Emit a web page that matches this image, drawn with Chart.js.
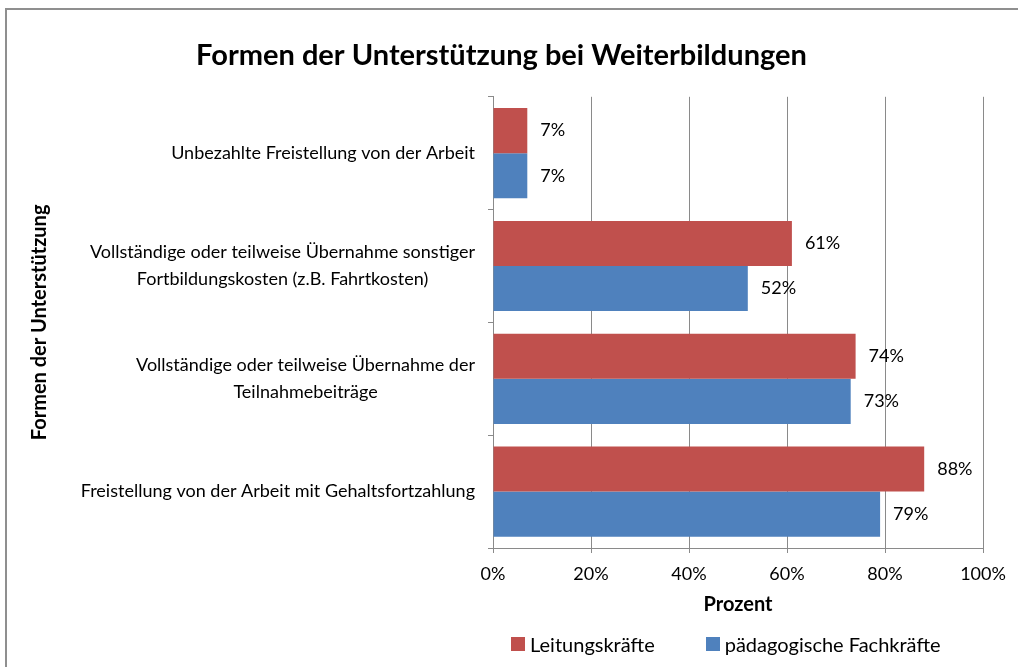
<!DOCTYPE html>
<html>
<head>
<meta charset="utf-8">
<script src="https://cdn.jsdelivr.net/npm/chart.js@4"></script>
<style>
  html, body { margin: 0; padding: 0; background: #fff; overflow: hidden; }
  .frame { position: absolute; left: 5px; top: 8px; width: 1100px; height: 800px;
           border-left: 2px solid #8f8f8f; border-top: 2px solid #8f8f8f; }
  .wrap { position: absolute; left: 0; top: 0; width: 1018px; height: 667px; }
  #legend { position: absolute; left: 511px; top: 632px; display: flex; gap: 51px;
            font: 20px Lato, sans-serif; color: #000; white-space: nowrap; }
  #legend span.item { display: flex; align-items: center; }
  #legend span.box { display: inline-block; width: 14px; height: 14px; margin-right: 5px; }
</style>
</head>
<body>
<div class="frame"></div>
<div class="wrap"><canvas id="chart"></canvas></div>
<div id="legend"></div>
<script>
// Data
const categories = [
    ['Unbezahlte Freistellung von der Arbeit'],
    ['Vollständige oder teilweise Übernahme sonstiger', 'Fortbildungskosten (z.B. Fahrtkosten)'],
    ['Vollständige oder teilweise Übernahme der', 'Teilnahmebeiträge'],
    ['Freistellung von der Arbeit mit Gehaltsfortzahlung']
];
const leitungskraefte = [7, 61, 74, 88];
const fachkraefte = [7, 52, 73, 79];
const xTicks = [0, 20, 40, 60, 80, 100];

const gridColor = '#8a8a8a';

// category labels: block right-aligned, lines centered inside the block
const categoryLabels = {
    id: 'categoryLabels',
    afterDraw(chart) {
        const scale = chart.scales.y;
        const ctx = chart.ctx;
        ctx.save();
        ctx.font = '18px Lato';
        ctx.fillStyle = '#000';
        ctx.textAlign = 'center';
        ctx.textBaseline = 'middle';
        const lh = 27;
        chart.data.labels.forEach((lines, i) => {
            const py = scale.getPixelForTick(i);
            const w = Math.max(...lines.map(l => ctx.measureText(l).width));
            const cx = scale.right - 18 - w / 2;
            lines.forEach((l, j) => ctx.fillText(l, cx, py + (j - (lines.length - 1) / 2) * lh));
        });
        ctx.restore();
    }
};

// value labels next to bar ends
const valueLabels = {
    id: 'valueLabels',
    afterDatasetsDraw(chart) {
        const ctx = chart.ctx;
        ctx.save();
        ctx.font = '18px Lato';
        ctx.fillStyle = '#000';
        ctx.textAlign = 'left';
        ctx.textBaseline = 'middle';
        chart.data.datasets.forEach((ds, di) => {
            chart.getDatasetMeta(di).data.forEach((bar, i) => {
                ctx.fillText(ds.data[i] + '%', bar.x + 13, bar.y);
            });
        });
        ctx.restore();
    }
};

Chart.defaults.font.family = 'Lato';
Chart.defaults.color = '#000';

const chart = new Chart(document.getElementById('chart'), {
    type: 'bar',
    data: {
        labels: categories,
        datasets: [{
            label: 'Leitungskräfte',
            data: leitungskraefte,
            backgroundColor: '#c0504d',
            borderWidth: 0
        }, {
            label: 'pädagogische Fachkräfte',
            data: fachkraefte,
            backgroundColor: '#4f81bd',
            borderWidth: 0
        }]
    },
    options: {
        indexAxis: 'y',
        responsive: true,
        maintainAspectRatio: false,
        animation: false,
        categoryPercentage: 0.8,
        barPercentage: 1.0,
        layout: {
            padding: { left: 20, right: 35, top: 0, bottom: 42 }
        },
        plugins: {
            title: {
                display: true,
                text: 'Formen der Unterstützung bei Weiterbildungen',
                font: { size: 29, weight: 'bold' },
                color: '#000',
                padding: { top: 38, bottom: 24 }
            },
            legend: { display: false },
            tooltip: { enabled: false }
        },
        scales: {
            x: {
                min: 0,
                max: 100,
                afterBuildTicks: s => { s.ticks = xTicks.map(v => ({ value: v })); },
                afterFit: s => { s.height = 77; },
                grid: {
                    color: gridColor,
                    tickLength: 5,
                    lineWidth: 1
                },
                border: { color: gridColor, width: 1 },
                ticks: {
                    font: { size: 18 },
                    padding: 10,
                    callback: v => v + '%'
                },
                title: {
                    display: true,
                    text: 'Prozent',
                    font: { size: 20, weight: 'bold' },
                    padding: { top: 0, bottom: 8 }
                }
            },
            y: {
                afterFit: s => { s.width = 473; },
                grid: {
                    drawOnChartArea: false,
                    color: gridColor,
                    tickLength: 5
                },
                border: { color: gridColor, width: 1 },
                ticks: { display: false },
                title: {
                    display: true,
                    text: 'Formen der Unterstützung',
                    font: { size: 20, weight: 'bold' },
                    padding: { top: 8, bottom: 0 }
                }
            }
        }
    },
    plugins: [categoryLabels, valueLabels]
});

// HTML legend built from the datasets
const legendEl = document.getElementById('legend');
chart.data.datasets.forEach(ds => {
    const item = document.createElement('span');
    item.className = 'item';
    const box = document.createElement('span');
    box.className = 'box';
    box.style.background = ds.backgroundColor;
    item.appendChild(box);
    item.appendChild(document.createTextNode(ds.label));
    legendEl.appendChild(item);
});
</script>
</body>
</html>
